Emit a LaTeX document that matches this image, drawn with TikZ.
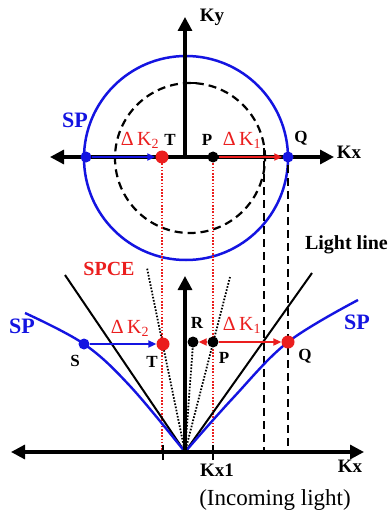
\documentclass[tikz,border=0pt]{standalone}
\usepackage{fontspec}
\setmainfont{Liberation Serif}
\usetikzlibrary{arrows.meta}
\definecolor{spblue}{RGB}{20,20,225}
\definecolor{spred}{RGB}{235,30,30}
\begin{document}
\begin{tikzpicture}[x=1pt,y=-1pt,
  axis/.style={line width=3.2pt,black},
  bigtip/.style={-{Triangle[length=14pt,width=14pt]}},
  bigtips/.style={{Triangle[length=14pt,width=14pt]}-{Triangle[length=14pt,width=14pt]}},
  smalltip/.style={-{Triangle[length=8pt,width=7pt]}},
  dotb/.style={circle,fill=spblue,inner sep=0pt,minimum size=11pt},
  dotr/.style={circle,fill=spred,inner sep=0pt,minimum size=13pt},
  dotk/.style={circle,fill=black,inner sep=0pt,minimum size=11pt},
  lbl/.style={font=\fontsize{17}{19}\selectfont\bfseries,inner sep=0pt},
  axlbl/.style={font=\fontsize{19}{21}\selectfont\bfseries,inner sep=0pt},
  splbl/.style={font=\fontsize{22}{24}\selectfont\bfseries,text=spblue,inner sep=0pt},
  dklbl/.style={font=\fontsize{20}{22}\selectfont,text=spred,inner sep=0pt},
  reddot/.style={spred,line width=1.5pt,dash pattern=on 1.6pt off 1.6pt},
  blackdash/.style={black,line width=2.2pt,dash pattern=on 8pt off 5pt},
  blackdot/.style={black,line width=1.8pt,dash pattern=on 1.6pt off 1.6pt},
  lightl/.style={black,line width=2pt},
  spcurve/.style={spblue,line width=2.4pt}
]
\useasboundingbox (0,0) rectangle (390,513);
\fill[white] (0,0) rectangle (390,513);

% ---------- top: k-space circle ----------
\coordinate (O1) at (185,157);
\coordinate (kxL) at (50,157);
\coordinate (kxR) at (334,157);
\coordinate (kyT) at (185,17);
\draw[spblue,line width=2.5pt] (186,158) circle[radius=102pt];
\draw[blackdash] (190,158) circle[radius=75pt];
\draw[black,line width=2.2pt] (185,83) -- (197,83);
\draw[axis,bigtips] (kxL) -- (kxR);
\draw[axis,bigtip] (O1) -- (kyT);
\node[axlbl] (Ky) at (212,17) {Ky};
\node[axlbl] (Kx) at (349,152) {Kx};

% vertical guide lines
\coordinate (dT1) at (162,157);
\coordinate (dT2) at (162,452);
\coordinate (dP1) at (213,157);
\coordinate (dP2) at (213,452);
\draw[reddot] (dT1) -- (dT2);
\draw[reddot] (dP1) -- (dP2);
\coordinate (dA1) at (264,148);
\coordinate (dA2) at (264,452);
\coordinate (dQ1) at (288,165);
\coordinate (dQ2) at (288,452);
\draw[blackdash] (dA1) -- (dA2);
\draw[blackdash] (dQ1) -- (dQ2);

\node[dotb] (L1) at (86,157) {};
\node[dotr] (T1) at (162,157) {};
\node[dotk] (P1) at (213,157) {};
\node[dotb] (Q1) at (288,157) {};
\draw[spblue,line width=2.4pt,smalltip] (L1) -- (T1);
\draw[spred,line width=2.4pt,smalltip] (P1) -- (Q1);

\node[splbl] (SPt) at (75,120) {SP};
\node[dklbl] (dk2t) at (140,140) {Δ\,K\textsubscript{2}};
\node[lbl] (Tt) at (170,140) {T};
\node[lbl] (Pt) at (207,140) {P};
\node[dklbl] (dk1t) at (242,140) {Δ\,K\textsubscript{1}};
\node[lbl] (Qt) at (301,138) {Q};

% ---------- bottom: dispersion ----------
\coordinate (V) at (185,452);
\coordinate (bxL) at (11,452);
\coordinate (bxR) at (364,452);
\coordinate (byT) at (185,276);
\coordinate (LL) at (65,275);
\coordinate (LR) at (312,273);
\coordinate (SCl) at (147,268);
\coordinate (SCr) at (230,277);

\draw[lightl] (V) -- (LL);
\draw[lightl] (V) -- (LR);
\draw[blackdot] (V) -- (SCl);
\draw[blackdot] (V) -- (SCr);
\draw[blackdot] (V) -- (193,344);

\draw[spcurve] plot[smooth,tension=0.6] coordinates {(185,452) (130,386) (84,344) (25,313)};
\draw[spcurve] plot[smooth,tension=0.6] coordinates {(185,452) (233,398) (288,342) (358,300)};

\draw[axis,bigtips] (bxL) -- (bxR);
\draw[axis,bigtip] (V) -- (byT);
\draw[black,line width=2.4pt] (163,445) -- (163,460);
\draw[black,line width=2.4pt] (213,445) -- (213,460);

\node[dotb] (S) at (84,344) {};
\node[dotr] (T) at (163,344) {};
\node[dotk] (R) at (193,342) {};
\node[dotk] (P) at (213,342) {};
\node[dotr] (Q) at (288,342) {};
\draw[spblue,line width=2.4pt,smalltip] (S) -- (T);
\draw[spred,line width=2.4pt,smalltip] (P) -- (R);
\draw[spred,line width=2.4pt,smalltip] (P) -- (Q);

\node[splbl] (SPl) at (22,326) {SP};
\node[splbl] (SPr) at (357,322) {SP};
\node[lbl] (Sl) at (75,361) {S};
\node[lbl] (Tl) at (152,362) {T};
\node[lbl] (Rl) at (197,323) {R};
\node[lbl] (Pl) at (224,358) {P};
\node[lbl] (Ql) at (305,356) {Q};
\node[dklbl] (dk2) at (130,328) {Δ\,K\textsubscript{2}};
\node[dklbl] (dk1) at (242,325) {Δ\,K\textsubscript{1}};
\node[font=\fontsize{20}{22}\selectfont\bfseries,text=spred,inner sep=0pt] (spce) at (109,269) {SPCE};
\node[font=\fontsize{20}{22}\selectfont\bfseries,inner sep=0pt,anchor=east] (ll) at (388,245) {Light line};
\node[axlbl] (Kx1) at (217,470) {Kx1};
\node[axlbl] (Kxb) at (350,466) {Kx};
\node[font=\fontsize{23}{25}\selectfont,inner sep=0pt] (inc) at (275,500) {(Incoming light)};
\end{tikzpicture}
\end{document}
